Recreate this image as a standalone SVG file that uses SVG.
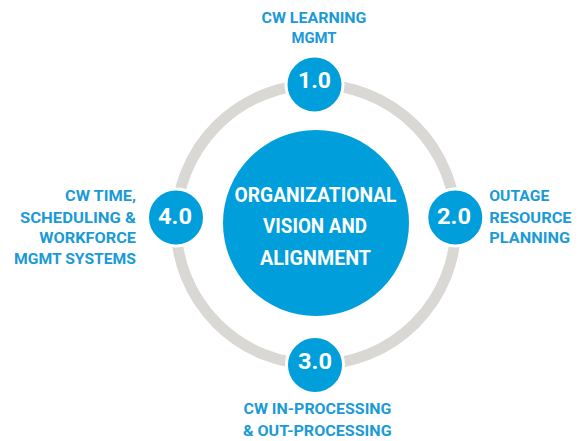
<svg xmlns="http://www.w3.org/2000/svg" width="579" height="441" viewBox="0 0 579 441">
  <style>
    .ring { fill: none; stroke: #d9d8d4; stroke-width: 11; }
    .hub { fill: #009edb; }
    .step { fill: #009edb; stroke: #ffffff; stroke-width: 3; }
    .num { font-family: Roboto, "Liberation Sans", sans-serif; font-weight: bold; font-size: 22.5px; fill: #ffffff; text-anchor: middle; }
    .core { font-family: Roboto, "Liberation Sans", sans-serif; font-weight: bold; font-size: 21px; fill: #ffffff; text-anchor: middle; }
    .lbl { font-family: Roboto, "Liberation Sans", sans-serif; font-weight: bold; font-size: 14px; fill: #1a9ad7; }
    .mid { text-anchor: middle; }
    .end { text-anchor: end; }
  </style>

  <!-- cycle ring linking the four steps -->
  <g id="connectors">
    <circle class="ring" cx="316" cy="224.5" r="140"/>
  </g>

  <!-- central hub -->
  <g id="hub">
    <circle class="hub" cx="316" cy="223" r="93"/>
    <text class="core" x="315.5" y="201.5" textLength="162" lengthAdjust="spacingAndGlyphs">ORGANIZATIONAL</text>
    <text class="core" x="315" y="233" textLength="104" lengthAdjust="spacingAndGlyphs">VISION AND</text>
    <text class="core" x="315.5" y="264.5" textLength="111" lengthAdjust="spacingAndGlyphs">ALIGNMENT</text>
  </g>

  <!-- step 1.0 -->
  <g id="step-1">
    <circle class="step" cx="314.5" cy="84.5" r="28.5"/>
    <text class="num" x="314.5" y="88" textLength="33" lengthAdjust="spacingAndGlyphs">1.0</text>
    <text class="lbl mid" x="314" y="22.7" textLength="105" lengthAdjust="spacingAndGlyphs">CW LEARNING</text>
    <text class="lbl mid" x="314" y="43.3" textLength="45" lengthAdjust="spacingAndGlyphs">MGMT</text>
  </g>

  <!-- step 2.0 -->
  <g id="step-2">
    <circle class="step" cx="455.3" cy="217.5" r="28.5"/>
    <text class="num" x="454" y="224.3" textLength="34" lengthAdjust="spacingAndGlyphs">2.0</text>
    <text class="lbl" x="489.3" y="200.7" textLength="60" lengthAdjust="spacingAndGlyphs">OUTAGE</text>
    <text class="lbl" x="489.3" y="222.7" textLength="82.3" lengthAdjust="spacingAndGlyphs">RESOURCE</text>
    <text class="lbl" x="489.3" y="243.3" textLength="80.7" lengthAdjust="spacingAndGlyphs">PLANNING</text>
  </g>

  <!-- step 3.0 -->
  <g id="step-3">
    <circle class="step" cx="315" cy="365" r="28.5"/>
    <text class="num" x="315" y="369.3" textLength="34" lengthAdjust="spacingAndGlyphs">3.0</text>
    <text class="lbl mid" x="317.5" y="414.3" textLength="148" lengthAdjust="spacingAndGlyphs">CW IN-PROCESSING</text>
    <text class="lbl mid" x="317.3" y="436" textLength="148.7" lengthAdjust="spacingAndGlyphs">&amp; OUT-PROCESSING</text>
  </g>

  <!-- step 4.0 -->
  <g id="step-4">
    <circle class="step" cx="176" cy="217.5" r="28.5"/>
    <text class="num" x="175" y="224.3" textLength="34" lengthAdjust="spacingAndGlyphs">4.0</text>
    <text class="lbl end" x="136" y="201" textLength="71" lengthAdjust="spacingAndGlyphs">CW TIME,</text>
    <text class="lbl end" x="136" y="222.7" textLength="116" lengthAdjust="spacingAndGlyphs">SCHEDULING &amp;</text>
    <text class="lbl end" x="136" y="243.3" textLength="96.7" lengthAdjust="spacingAndGlyphs">WORKFORCE</text>
    <text class="lbl end" x="136" y="264.3" textLength="122" lengthAdjust="spacingAndGlyphs">MGMT SYSTEMS</text>
  </g>
</svg>
